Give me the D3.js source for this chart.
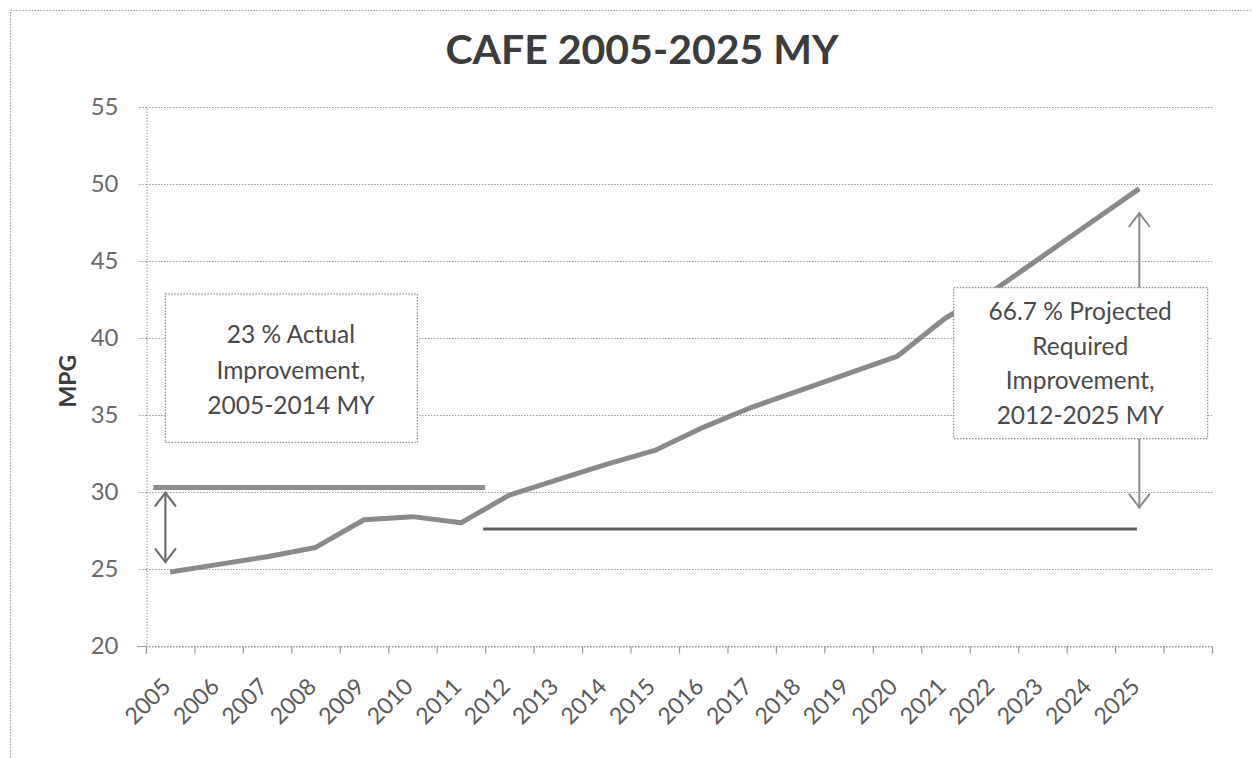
<!DOCTYPE html>
<html>
<head>
<meta charset="utf-8">
<script src="https://cdn.jsdelivr.net/npm/d3@7"></script>
<style>
  html, body { margin: 0; padding: 0; background: #fff; }
  svg { display: block; }
</style>
</head>
<body>
<svg id="chart" width="1252" height="758"></svg>
<script>
// CAFE fuel economy, model years 2005-2025
const years = ["2005","2006","2007","2008","2009","2010","2011","2012","2013","2014",
               "2015","2016","2017","2018","2019","2020","2021","2022","2023","2024","2025"];
const mpg = [24.8, 25.3, 25.8, 26.4, 28.2, 28.4, 28.0, 29.8, 30.8, 31.8,
             32.7, 34.2, 35.5, 36.6, 37.7, 38.8, 41.3, 43.1, 45.3, 47.5, 49.7];
const yTicks = [20, 25, 30, 35, 40, 45, 50, 55];

// reference levels for the two improvement spans
const actualLevel = 30.3;      // 2014 level
const baselineLevel = 27.6;    // 2012 baseline
const notes = [
  ["23 % Actual", "Improvement,", "2005-2014 MY"],
  ["66.7 % Projected", "Required", "Improvement,", "2012-2025 MY"]
];

const svg = d3.select("#chart");
const plotLeft = 146, plotRight = 1212, plotTop = 107, plotBottom = 646;
const slots = years.length + 1; // one trailing empty category

const x = d3.scaleLinear().domain([0, slots]).range([plotLeft, plotRight]);
const xc = i => x(i + 0.5);
const y = d3.scaleLinear().domain([20, 55]).range([plotBottom, plotTop]);

const gridColor = "#9a9a9a";
const font = "Lato, 'Open Sans', sans-serif";

// outer chart border
svg.append("rect")
  .attr("x", 10.5).attr("y", 10.5).attr("width", 1260).attr("height", 780)
  .attr("fill", "none").attr("stroke", "#999").attr("stroke-dasharray", "1.5,1.5");

// title
svg.append("text")
  .attr("x", 642).attr("y", 64)
  .attr("text-anchor", "middle")
  .attr("font-family", font)
  .attr("font-weight", 700)
  .attr("font-size", 41)
  .attr("fill", "#3c3c3c")
  .text("CAFE 2005-2025 MY");

// horizontal gridlines
svg.append("g")
  .selectAll("line")
  .data(yTicks)
  .join("line")
  .attr("x1", plotLeft).attr("x2", plotRight)
  .attr("y1", d => y(d) + 0.5).attr("y2", d => y(d) + 0.5)
  .attr("stroke", gridColor).attr("stroke-width", 1.2)
  .attr("stroke-dasharray", "1.5,1.5");

// y axis
const yAxis = svg.append("g")
  .attr("transform", `translate(${plotLeft + 0.5},0)`)
  .call(d3.axisLeft(y).tickValues(yTicks).tickSize(9).tickPadding(19));
yAxis.select(".domain").attr("stroke", gridColor).attr("stroke-dasharray", "1.5,1.5").attr("stroke-width", 1.2);
yAxis.selectAll(".tick line").attr("stroke", gridColor).attr("stroke-dasharray", "1.5,1.5").attr("stroke-width", 1.2);
yAxis.selectAll(".tick text")
  .attr("font-family", font)
  .attr("font-size", 24)
  .attr("fill", "#6a6a6a");

// x axis: ticks between categories
const xAxis = svg.append("g")
  .attr("transform", `translate(0,${plotBottom + 0.5})`)
  .call(d3.axisBottom(x).tickValues(d3.range(0, slots + 1)).tickSize(7).tickFormat(""));
xAxis.select(".domain").attr("stroke", gridColor).attr("stroke-dasharray", "1.5,1.5").attr("stroke-width", 1.2);
xAxis.selectAll(".tick line").attr("stroke", gridColor).attr("stroke-width", 1.2);

svg.append("g")
  .selectAll("text")
  .data(years)
  .join("text")
  .attr("transform", (d, i) => `translate(${xc(i) + 2},${plotBottom + 42}) rotate(-45)`)
  .attr("text-anchor", "end")
  .attr("font-family", font)
  .attr("font-size", 23)
  .attr("fill", "#5a5a5a")
  .text(d => d);

// y axis title
svg.append("text")
  .attr("transform", `translate(76,${y(37.2)}) rotate(-90)`)
  .attr("text-anchor", "middle")
  .attr("font-family", font)
  .attr("font-weight", 700)
  .attr("font-size", 23)
  .attr("fill", "#3c3c3c")
  .text("MPG");

// reference levels
svg.append("line")
  .attr("x1", x(0.15)).attr("x2", x(7.0))
  .attr("y1", y(actualLevel)).attr("y2", y(actualLevel))
  .attr("stroke", "#8e8e8e").attr("stroke-width", 5);
svg.append("line")
  .attr("x1", x(6.96)).attr("x2", x(20.45))
  .attr("y1", y(baselineLevel)).attr("y2", y(baselineLevel))
  .attr("stroke", "#5e5e5e").attr("stroke-width", 3);

// series line
svg.append("path")
  .datum(mpg)
  .attr("d", d3.line().x((d, i) => xc(i)).y(d => y(d)))
  .attr("fill", "none")
  .attr("stroke", "#8a8a8a")
  .attr("stroke-width", 5)
  .attr("stroke-linejoin", "round");

// double-headed arrow helper
function arrow(xPos, y1, y2, color, width) {
  const g = svg.append("g").attr("stroke", color).attr("stroke-width", width)
    .attr("fill", "none").attr("stroke-linecap", "round");
  g.append("line").attr("x1", xPos).attr("x2", xPos).attr("y1", y1).attr("y2", y2);
  const h = 13, w = 10;
  g.append("polyline").attr("points", `${xPos - w},${y1 + h} ${xPos},${y1} ${xPos + w},${y1 + h}`);
  g.append("polyline").attr("points", `${xPos - w},${y2 - h} ${xPos},${y2} ${xPos + w},${y2 - h}`);
}
arrow(x(0.4), y(29.95), y(25.45), "#6e6e6e", 2.2);
arrow(xc(20), y(48.1), y(29.0), "#8a8a8a", 2);

// annotation boxes
function noteBox(x0, x1, vTop, vBottom, lines, firstBaseline, lineGap) {
  const bx = x(x0), bw = x(x1) - x(x0), by = y(vTop), bh = y(vBottom) - y(vTop);
  svg.append("rect")
    .attr("x", bx + 0.5).attr("y", by + 0.5).attr("width", bw).attr("height", bh)
    .attr("fill", "#fff").attr("stroke", "#8a8a8a").attr("stroke-width", 1.2)
    .attr("stroke-dasharray", "1.5,1.5");
  svg.append("g")
    .selectAll("text")
    .data(lines)
    .join("text")
    .attr("x", bx + bw / 2)
    .attr("y", (d, i) => by + firstBaseline + i * lineGap)
    .attr("text-anchor", "middle")
    .attr("font-family", font)
    .attr("font-size", 24.5)
    .attr("fill", "#4a4a4a")
    .text(d => d);
}
noteBox(0.39, 5.59, 42.9, 33.25, notes[0], 50, 35.5);
noteBox(16.66, 21.9, 43.3, 33.5, notes[1], 33, 34.5);
</script>
</body>
</html>
